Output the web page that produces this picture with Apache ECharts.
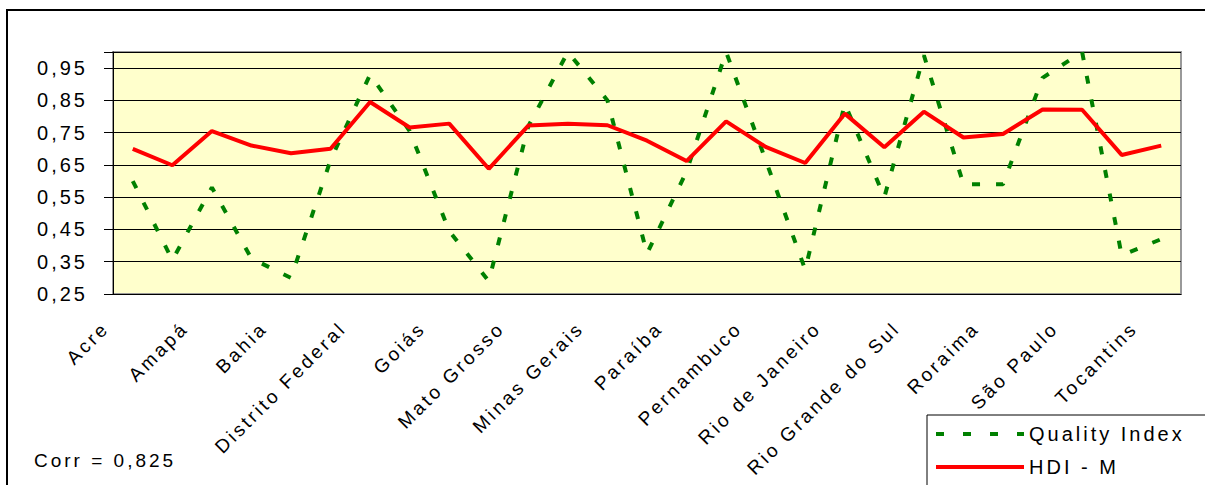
<!DOCTYPE html>
<html>
<head>
<meta charset="utf-8">
<script src="https://cdn.jsdelivr.net/npm/echarts@6/dist/echarts.min.js"></script>
<style>
  html, body { margin: 0; padding: 0; background: #fff; }
  #chart { width: 1205px; height: 485px; }
  /* Excel-style wide letter spacing */
  #chart text { letter-spacing: 3px; }
</style>
</head>
<body>
<div id="chart"></div>
<script>
// categories (every other label is shown on the axis)
const states = [
  'Acre', 'Alagoas', 'Amapá', 'Amazonas', 'Bahia', 'Ceará', 'Distrito Federal',
  'Espírito Santo', 'Goiás', 'Maranhão', 'Mato Grosso', 'Mato Grosso do Sul',
  'Minas Gerais', 'Pará', 'Paraíba', 'Paraná', 'Pernambuco', 'Piauí',
  'Rio de Janeiro', 'Rio Grande do Norte', 'Rio Grande do Sul', 'Rondônia',
  'Roraima', 'Santa Catarina', 'São Paulo', 'Sergipe', 'Tocantins'
]

// series values
const qualityIndex = [
  0.60, 0.355, 0.58, 0.36, 0.30, 0.665, 0.93, 0.755, 0.445, 0.29, 0.77, 1.0,
  0.85, 0.375, 0.63, 1.0, 0.665, 0.325, 0.84, 0.55, 0.99, 0.59, 0.59, 0.92,
  1.0, 0.37, 0.42
]
const hdiM = [
  0.70, 0.649, 0.755, 0.71, 0.686, 0.70, 0.845, 0.766, 0.778, 0.638, 0.772, 0.778,
  0.773, 0.725, 0.662, 0.785, 0.706, 0.656, 0.809, 0.705, 0.815, 0.735, 0.746, 0.822,
  0.821, 0.681, 0.71
]

// y axis range / ticks
const yMin = 0.25
const yMax = 1.0
const yStep = 0.1

const corrText = 'Corr = 0,825'

const font = 'Liberation Sans, Arial, sans-serif'

// legend icons: short dashes for Quality Index, solid bar for HDI - M
const dashIcon = 'path://M0,0h8v4h-8zM27,0h8v4h-8zM54,0h8v4h-8zM81,0h7v4h-7z'
const lineIcon = 'path://M0,0h88v4h-88z'

const chart = echarts.init(document.getElementById('chart'), null, { renderer: 'svg' })

const option = {
  backgroundColor: '#fff',
  animation: false,
  title: {
    text: corrText,
    left: 34,
    top: 451,
    padding: 0,
    textStyle: { fontFamily: font, fontSize: 19, fontWeight: 'normal', color: '#000' }
  },
  legend: {
    orient: 'vertical',
    left: 936,
    top: 424,
    padding: 0,
    itemWidth: 88,
    itemHeight: 4,
    itemGap: 13,
    textStyle: { fontFamily: font, fontSize: 20, lineHeight: 20, color: '#000' },
    data: [
      { name: 'Quality Index', icon: dashIcon },
      { name: 'HDI - M', icon: lineIcon }
    ]
  },
  grid: [
    {
      left: 113, right: 24, top: 52, bottom: 191,
      show: true,
      backgroundColor: '#ffffcc',
      borderColor: '#999',
      borderWidth: 2
    },
    // label-only grid, shifted left like the original labels
    { left: 86, right: 51, top: 52, bottom: 191 }
  ],
  xAxis: [
    {
      type: 'category',
      gridIndex: 0,
      data: states,
      boundaryGap: true,
      axisLine: { lineStyle: { color: '#000', width: 1 } },
      axisTick: { length: 7, lineStyle: { color: '#000' } },
      axisLabel: { show: false }
    },
    {
      type: 'category',
      gridIndex: 1,
      data: states,
      axisLine: { show: false },
      axisTick: { show: false },
      axisLabel: {
        interval: 1,
        rotate: 45,
        margin: 31,
        fontFamily: font,
        fontSize: 19,
        color: '#000'
      }
    }
  ],
  yAxis: [
    {
      type: 'value',
      gridIndex: 0,
      min: yMin,
      max: yMax,
      interval: yStep,
      axisLine: { show: true, lineStyle: { color: '#000', width: 1 } },
      axisTick: { show: true, length: 9, lineStyle: { color: '#000' } },
      axisLabel: {
        margin: 25,
        fontFamily: font,
        fontSize: 20,
        color: '#000',
        formatter: v => (v > 0.99 ? '' : v.toFixed(2).replace('.', ','))
      },
      splitLine: { lineStyle: { color: '#000', width: 1 } }
    },
    { type: 'value', gridIndex: 1, show: false }
  ],
  series: [
    {
      name: 'Quality Index',
      type: 'line',
      xAxisIndex: 0,
      yAxisIndex: 0,
      data: qualityIndex,
      symbol: 'none',
      lineStyle: { color: '#008000', width: 4, type: [8, 16] },
      itemStyle: { color: '#008000' }
    },
    {
      name: 'HDI - M',
      type: 'line',
      xAxisIndex: 0,
      yAxisIndex: 0,
      data: hdiM,
      symbol: 'none',
      lineStyle: { color: '#ff0000', width: 4 },
      itemStyle: { color: '#ff0000' }
    }
  ],
  graphic: [
    // outer chart frame (runs off the right/bottom edge like the original)
    {
      type: 'rect',
      z: -10,
      shape: { x: 7, y: 10, width: 1300, height: 600 },
      style: { fill: 'none', stroke: '#000', lineWidth: 2 }
    },
    // legend box, also cut by the edges
    {
      type: 'rect',
      z: -5,
      shape: { x: 927, y: 415, width: 400, height: 200 },
      style: { fill: '#fff', stroke: '#000', lineWidth: 1 }
    }
  ]
}

chart.setOption(option)
</script>
</body>
</html>
